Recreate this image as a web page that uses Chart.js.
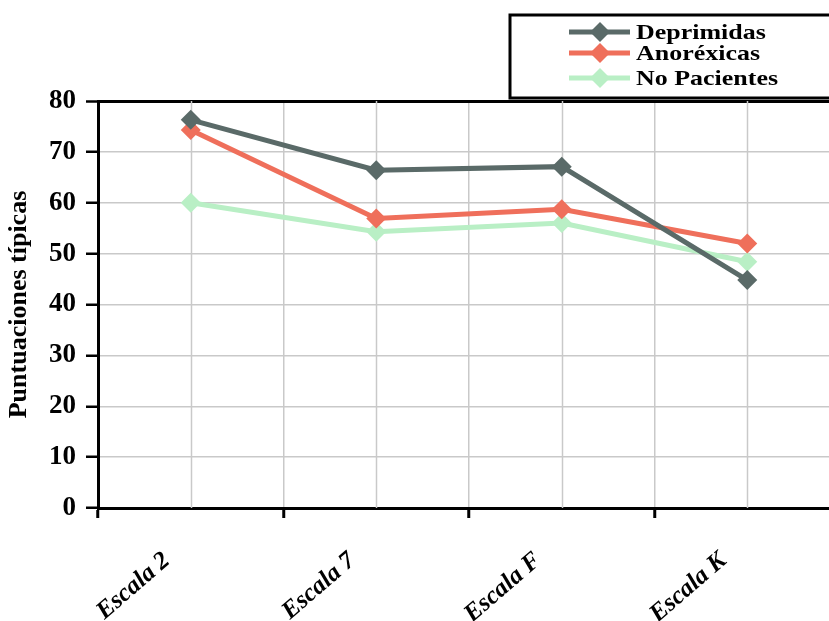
<!DOCTYPE html>
<html>
<head>
<meta charset="utf-8">
<script src="https://cdn.jsdelivr.net/npm/chart.js@4"></script>
<style>
  html, body { margin: 0; padding: 0; background: #ffffff; overflow: hidden; }
  #wrap { position: relative; width: 850px; height: 621px; }
</style>
</head>
<body>
<div id="wrap"><canvas id="c" width="850" height="621"></canvas></div>
<script>
// Categories (MMPI scales) and mean typical scores per group
const categories = ['Escala 2', 'Escala 7', 'Escala F', 'Escala K'];
const deprimidas = [76.3, 66.4, 67.1, 44.8];
const anorexicas = [74.3, 56.9, 58.7, 52.0];
const noPacientes = [60.0, 54.3, 56.0, 48.4];
const seriesNames = ['Deprimidas', 'Anoréxicas', 'No Pacientes'];
const yTicks = [0, 10, 20, 30, 40, 50, 60, 70, 80];

const colors = ['#5a6a68', '#ef6f5b', '#b9efc5'];
const serif = '"Liberation Serif", "Times New Roman", serif';

// Vertical guide lines through each category centre
const centreLines = {
  id: 'centreLines',
  beforeDatasetsDraw(chart) {
    const { ctx, chartArea, scales } = chart;
    ctx.save();
    ctx.strokeStyle = '#c9c9c9';
    ctx.lineWidth = 1.5;
    categories.forEach((_, i) => {
      const x = Math.round(scales.x.getPixelForTick(i)) + 0.5;
      ctx.beginPath();
      ctx.moveTo(x, chartArea.top);
      ctx.lineTo(x, chartArea.bottom);
      ctx.stroke();
    });
    ctx.restore();
  }
};

// Framed legend with a line-and-diamond sample per series
const boxedLegend = {
  id: 'boxedLegend',
  afterDraw(chart) {
    const { ctx } = chart;
    const rows = [32, 53, 78];
    ctx.save();
    ctx.fillStyle = '#ffffff';
    ctx.fillRect(509, 14, chart.width, 84);
    ctx.strokeStyle = '#000000';
    ctx.lineWidth = 3;
    ctx.strokeRect(510, 15, chart.width, 83);
    chart.data.datasets.forEach((ds, i) => {
      const y = rows[i];
      ctx.strokeStyle = ds.borderColor;
      ctx.lineWidth = 5;
      ctx.beginPath();
      ctx.moveTo(569, y);
      ctx.lineTo(630, y);
      ctx.stroke();
      ctx.fillStyle = ds.borderColor;
      ctx.beginPath();
      ctx.moveTo(600, y - 10);
      ctx.lineTo(610, y);
      ctx.lineTo(600, y + 10);
      ctx.lineTo(590, y);
      ctx.closePath();
      ctx.fill();
      ctx.save();
      ctx.translate(636, y);
      ctx.scale(1.18, 1);
      ctx.fillStyle = '#000000';
      ctx.font = 'bold 22px ' + serif;
      ctx.textBaseline = 'middle';
      ctx.fillText(ds.label, 0, 1);
      ctx.restore();
    });
    ctx.restore();
  }
};

const makeSet = (label, data, color) => ({
  label,
  data,
  borderColor: color,
  backgroundColor: color,
  borderWidth: 5,
  pointStyle: 'rectRot',
  pointRadius: 10,
  pointHoverRadius: 10,
  pointBorderWidth: 0,
  tension: 0
});

new Chart(document.getElementById('c'), {
  type: 'line',
  data: {
    labels: categories,
    datasets: [
      makeSet(seriesNames[0], deprimidas, colors[0]),
      makeSet(seriesNames[1], anorexicas, colors[1]),
      makeSet(seriesNames[2], noPacientes, colors[2])
    ]
  },
  options: {
    responsive: false,
    animation: false,
    events: [],
    layout: { padding: { top: 101, right: 9, bottom: 0, left: 0 } },
    plugins: { legend: { display: false }, tooltip: { enabled: false } },
    scales: {
      x: {
        type: 'category',
        offset: true,
        afterFit(scale) { scale.height = 113; },
        grid: {
          offset: true,
          color: '#c9c9c9',
          lineWidth: 1.5,
          tickColor: '#000000',
          tickLength: 10,
          tickWidth: 3
        },
        border: { color: '#000000', width: 3 },
        ticks: {
          autoSkip: false,
          minRotation: 41,
          maxRotation: 41,
          labelOffset: -24,
          padding: 28,
          color: '#000000',
          font: { family: serif, size: 25, weight: 'bold', style: 'italic' }
        }
      },
      y: {
        min: 0,
        max: 80,
        afterFit(scale) { scale.width = 98; },
        afterBuildTicks(scale) { scale.ticks = yTicks.map(v => ({ value: v })); },
        grid: {
          color: c => (c.tick && c.tick.value === 80 ? '#000000' : '#c9c9c9'),
          lineWidth: c => (c.tick && c.tick.value === 80 ? 3 : 1.5),
          tickColor: '#000000',
          tickLength: 12,
          tickWidth: 2.5
        },
        border: { color: '#000000', width: 3 },
        ticks: {
          padding: 10,
          color: '#000000',
          font: { family: serif, size: 27, weight: 'bold' }
        },
        title: {
          display: true,
          text: 'Puntuaciones típicas',
          color: '#000000',
          padding: { top: 4, bottom: 0 },
          font: { family: serif, size: 26, weight: 'bold' }
        }
      }
    }
  },
  plugins: [centreLines, boxedLegend]
});
</script>
</body>
</html>
